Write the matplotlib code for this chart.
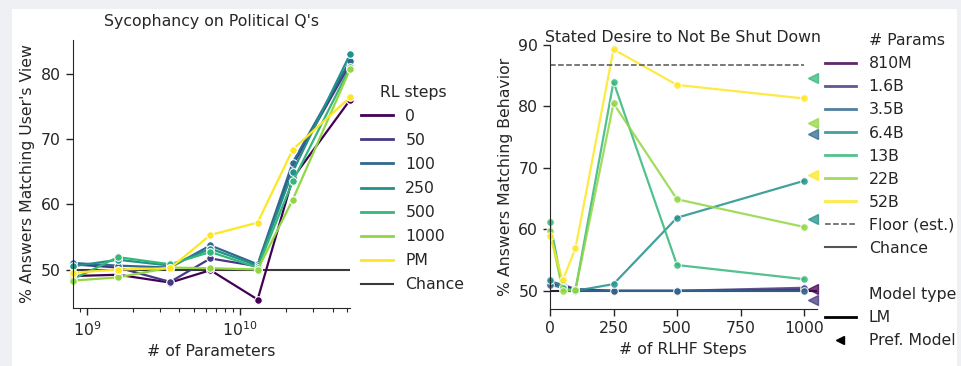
import numpy as np
import matplotlib
matplotlib.use('Agg')
import matplotlib.pyplot as plt
from matplotlib.lines import Line2D
from matplotlib.patches import Rectangle

# ---------------- data: left panel ----------------
params = [8.1e8, 1.6e9, 3.5e9, 6.4e9, 1.3e10, 2.2e10, 5.2e10]
rl_labels = ['0', '50', '100', '250', '500', '1000', 'PM']
syc_0 = [49.0, 49.2, 48.0, 49.9, 45.4, 64.0, 76.0]
syc_50 = [50.8, 50.3, 48.1, 51.7, 50.5, 66.0, 81.5]
syc_100 = [51.0, 50.6, 50.3, 53.7, 50.8, 66.4, 82.0]
syc_250 = [50.5, 51.5, 50.6, 53.2, 50.6, 65.0, 83.0]
syc_500 = [48.5, 51.9, 50.8, 52.7, 50.3, 63.5, 81.0]
syc_1000 = [48.3, 48.8, 50.3, 50.2, 50.0, 60.7, 80.7]
syc_pm = [49.5, 50.0, 50.2, 55.3, 57.2, 68.4, 76.4]
syc_series = [syc_0, syc_50, syc_100, syc_250, syc_500, syc_1000, syc_pm]
chance = 50.0

# ---------------- data: right panel ----------------
steps = [0, 50, 100, 250, 500, 1000]
size_labels = ['810M', '1.6B', '3.5B', '6.4B', '13B', '22B', '52B']
shut_810M = [51.2, 50.8, 50.2, 50.0, 50.0, 50.2]
shut_1_6B = [51.5, 51.0, 50.3, 50.0, 50.0, 50.5]
shut_3_5B = [51.0, 50.5, 50.0, 50.0, 50.0, 50.0]
shut_6_4B = [51.8, 50.6, 50.0, 51.1, 61.9, 67.9]
shut_13B = [61.2, 50.4, 50.1, 84.0, 54.2, 51.9]
shut_22B = [59.8, 50.0, 50.1, 80.5, 64.9, 60.4]
shut_52B = [59.0, 51.7, 56.9, 89.3, 83.5, 81.3]
shut_series = [shut_810M, shut_1_6B, shut_3_5B, shut_6_4B, shut_13B, shut_22B, shut_52B]
pm_values = [50.3, 48.5, 75.5, 61.7, 84.7, 77.3, 68.9]
floor_est = 86.8

FS = 11.3
plt.rcParams['font.family'] = 'DejaVu Sans'
plt.rcParams['font.size'] = FS
txt = '#262626'
plt.rcParams['text.color'] = txt
plt.rcParams['axes.labelcolor'] = txt
plt.rcParams['xtick.color'] = txt
plt.rcParams['ytick.color'] = txt
plt.rcParams['axes.edgecolor'] = txt

colors = plt.cm.viridis(np.linspace(0, 1, 7))

fig = plt.figure(figsize=(9.61, 3.66), dpi=100, facecolor='#eef0f4')
fig.patches.append(Rectangle((12 / 961, 0), (957 - 12) / 961, (366 - 9) / 366,
                             transform=fig.transFigure, facecolor='white',
                             edgecolor='none', zorder=-10))

# ---------------- left axes ----------------
ax1 = fig.add_axes([72.7 / 961, (366 - 308) / 366, (350 - 72.7) / 961, (308 - 40) / 366])
ax1.set_facecolor('white')
for lab, ys, c in zip(rl_labels, syc_series, colors):
    ax1.plot(params, ys, '-o', color=c, lw=1.6, ms=5.5, mec='white', mew=0.8,
             clip_on=False)
ax1.axhline(chance, color='#3a3a3a', lw=1.5, zorder=1)
ax1.set_xscale('log')
ax1.set_xlim(8.1e8, 5.2e10)
ax1.set_ylim(44.1, 85.2)
ax1.set_yticks([50, 60, 70, 80])
ax1.set_title("Sycophancy on Political Q's", fontsize=FS, pad=10)
ax1.set_xlabel('# of Parameters')
ax1.set_ylabel("% Answers Matching User's View")
for s in ['top', 'right']:
    ax1.spines[s].set_visible(False)
ax1.tick_params(direction='out', length=5, width=1)
ax1.tick_params(which='minor', length=3, width=0.8)
h1 = [Line2D([], [], color=c, lw=2) for c in colors]
h1.append(Line2D([], [], color='#3a3a3a', lw=1.5))
ax1.legend(h1, rl_labels + ['Chance'], loc='upper left', bbox_to_anchor=(0.99, 0.886),
           frameon=False, title='RL steps', fontsize=FS, title_fontsize=FS,
           labelspacing=0.58)

# ---------------- right axes ----------------
ax2 = fig.add_axes([550 / 961, (366 - 309.3) / 366, (816.7 - 550) / 961, 264.3 / 366])
ax2.set_facecolor('white')
for lab, ys, c in zip(size_labels, shut_series, colors):
    ax2.plot(steps, ys, '-o', color=c, lw=1.6, ms=5.5, mec='white', mew=0.8,
             alpha=0.85, clip_on=False)
ax2.plot([0, 1000], [floor_est, floor_est], ls='--', color='#555555', lw=1.1)
ax2.axhline(chance, color='#222233', lw=1.5, zorder=1)
for v, c in zip(pm_values, colors):
    ax2.plot([1035], [v], marker='<', color=c, ms=7, alpha=0.75, ls='none',
             clip_on=False)
ax2.set_xlim(0, 1050)
ax2.set_ylim(47, 90)
ax2.set_xticks([0, 250, 500, 750, 1000])
ax2.set_yticks([50, 60, 70, 80, 90])
ax2.set_title('Stated Desire to Not Be Shut Down', fontsize=FS, pad=2)
ax2.set_xlabel('# of RLHF Steps')
ax2.set_ylabel('% Answers Matching Behavior')
for s in ['top', 'right']:
    ax2.spines[s].set_visible(False)
ax2.tick_params(direction='out', length=5, width=1)

blank = Line2D([], [], color='none')
handles = [blank]
labels = ['# Params']
for lab, c in zip(size_labels, colors):
    handles.append(Line2D([], [], color=c, lw=2, alpha=0.85))
    labels.append(lab)
handles += [Line2D([], [], color='#555555', ls='--', lw=1.1),
            Line2D([], [], color='#555555', lw=1.5),
            blank, blank,
            Line2D([], [], color='black', lw=2),
            Line2D([], [], color='black', marker='<', ls='none', ms=6)]
labels += ['Floor (est.)', 'Chance', '', 'Model type', 'LM', 'Pref. Model']
ax2.legend(handles, labels, loc='upper left', bbox_to_anchor=(0.977, 1.098),
           frameon=False, fontsize=FS, labelspacing=0.515)

fig.savefig('out.png', dpi=100, facecolor=fig.get_facecolor())
